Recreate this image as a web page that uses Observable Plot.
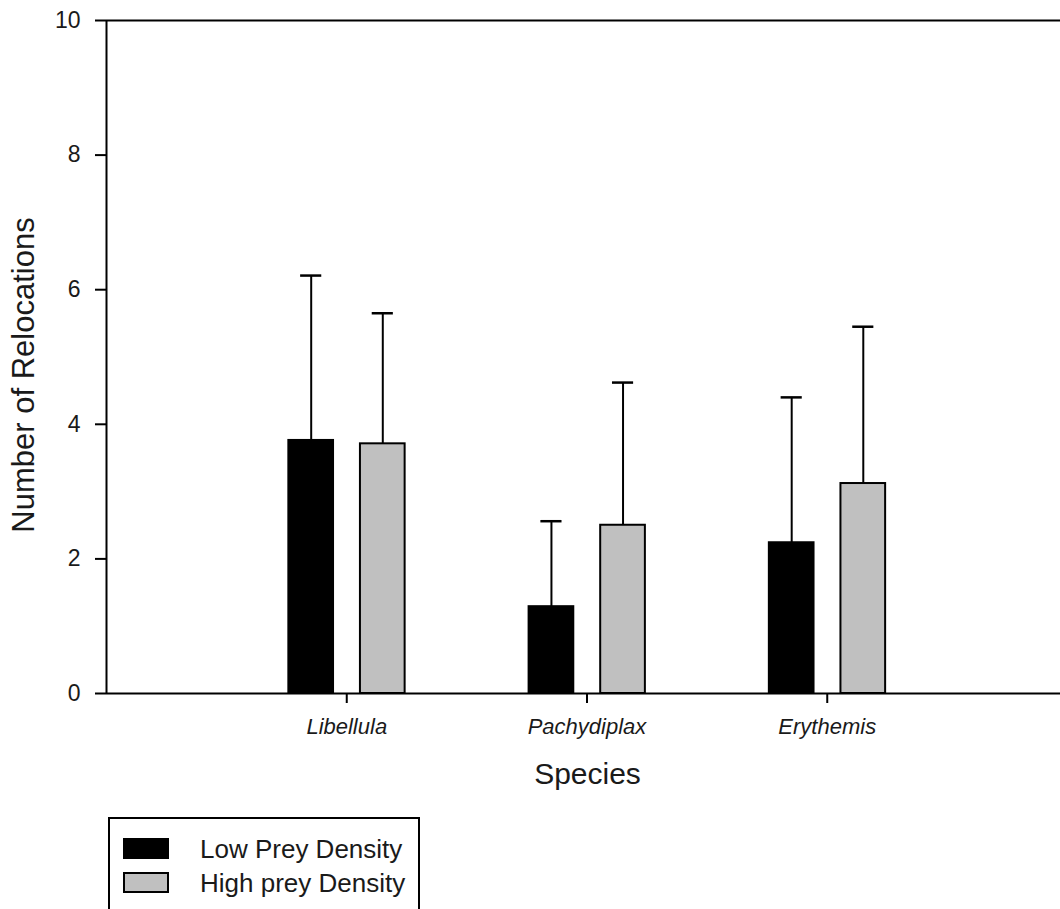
<!DOCTYPE html>
<html>
<head>
<meta charset="utf-8">
<script src="https://cdn.jsdelivr.net/npm/d3@7"></script>
<script src="https://cdn.jsdelivr.net/npm/@observablehq/plot@0.6"></script>
<style>
  body { margin: 0; background: #fff; font-family: "Liberation Sans", Arial, sans-serif; }
  #wrap { position: relative; width: 1060px; height: 909px; overflow: hidden; }
  #legend { position: absolute; left: 108px; top: 817px; width: 312px; height: 100px; border: 2px solid #000; box-sizing: border-box; background: #fff; }
  .sw { position: absolute; left: 13px; width: 46px; height: 21px; box-sizing: border-box; border: 2px solid #000; }
  .lab { position: absolute; left: 90px; font-size: 26px; color: #1a1a1a; line-height: 26px; white-space: nowrap; }
</style>
</head>
<body>
<div id="wrap">
  <div id="chart"></div>
  <div id="legend"></div>
</div>
<script>
const species = ["Libellula", "Pachydiplax", "Erythemis"];
const groups = ["Low Prey Density", "High prey Density"];
const groupColors = ["#000000", "#c0c0c0"];
const lowMeans = [3.76, 1.29, 2.24];
const lowErr = [2.45, 1.27, 2.16];
const highMeans = [3.71, 2.50, 3.12];
const highErr = [1.94, 2.12, 2.33];
const yTicks = [0, 2, 4, 6, 8, 10];

const rows = species.flatMap((s, i) => [
  {species: s, group: groups[0], mean: lowMeans[i], err: lowErr[i]},
  {species: s, group: groups[1], mean: highMeans[i], err: highErr[i]}
]);

const offset = {[groups[0]]: -0.148, [groups[1]]: 0.15};
const xpos = d => species.indexOf(d.species) + 1 + offset[d.group];
const hw = 0.093, cap = 0.044;

const chart = Plot.plot({
  width: 1060,
  height: 800,
  marginTop: 20,
  marginBottom: 107,
  marginLeft: 106,
  marginRight: 0,
  style: {fontFamily: "'Liberation Sans', Arial, sans-serif", background: "#fff"},
  x: {type: "linear", domain: [0, 4], range: [106, 1067]},
  y: {domain: [0, 10]},
  color: {domain: groups, range: groupColors},
  marks: [
    Plot.ruleX(rows, {x: xpos, y1: "mean", y2: d => d.mean + d.err, stroke: "#000", strokeWidth: 2}),
    Plot.ruleY(rows, {y: d => d.mean + d.err, x1: d => xpos(d) - cap, x2: d => xpos(d) + cap, stroke: "#000", strokeWidth: 2.5}),
    Plot.rectY(rows, {x1: d => xpos(d) - hw, x2: d => xpos(d) + hw, y1: 0, y2: "mean", fill: "group", stroke: "#000", strokeWidth: 2}),
    Plot.ruleY([0, 10], {stroke: "#000", strokeWidth: 2}),
    Plot.ruleX([0], {stroke: "#000", strokeWidth: 2}),
    Plot.axisY({ticks: yTicks, tickSize: 11, tickPadding: 15, fontSize: 23, fill: "#1a1a1a", stroke: "#000", strokeWidth: 2, label: null}),
    Plot.axisX({ticks: [1, 2, 3], tickFormat: i => species[i - 1], tickSize: 10, tickPadding: 15, fontSize: 22, fontStyle: "italic", fill: "#1a1a1a", stroke: "#000", strokeWidth: 2, label: null}),
    Plot.text(["Species"], {frameAnchor: "bottom", dx: 4, dy: 81, lineAnchor: "middle", fontSize: 30, fill: "#1a1a1a"}),
    Plot.text(["Number of Relocations"], {frameAnchor: "left", rotate: -90, dx: -82, dy: 18, textAnchor: "middle", lineAnchor: "middle", fontSize: 31, fill: "#1a1a1a"})
  ]
});
document.getElementById("chart").appendChild(chart);

const legend = document.getElementById("legend");
const swTops = [19, 53];
const labTops = [17, 51];
groups.forEach((g, i) => {
  const sw = document.createElement("div");
  sw.className = "sw";
  sw.style.top = swTops[i] + "px";
  sw.style.background = groupColors[i];
  legend.appendChild(sw);
  const lab = document.createElement("div");
  lab.className = "lab";
  lab.style.top = labTops[i] + "px";
  lab.textContent = g;
  legend.appendChild(lab);
});
</script>
</body>
</html>
